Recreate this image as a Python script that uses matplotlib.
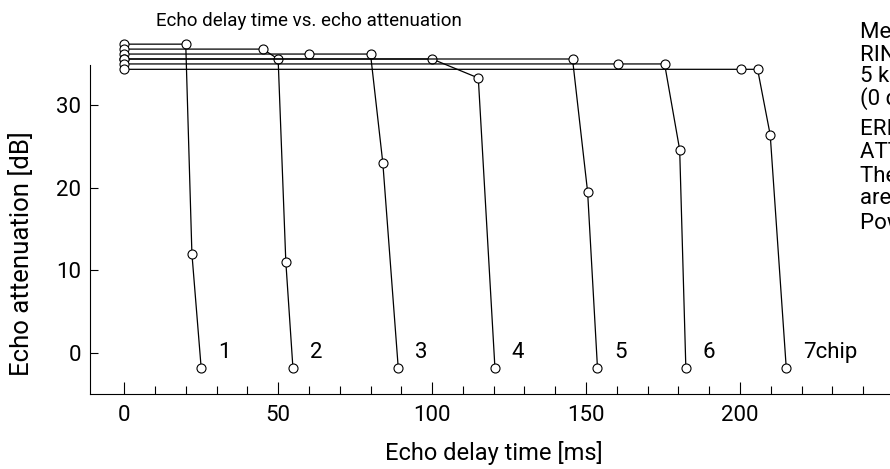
import matplotlib.pyplot as plt
from matplotlib.ticker import FixedLocator

plt.rcParams['font.family'] = ['Roboto', 'DejaVu Sans']

# delay / attenuation per chip count
chip_labels = ['1', '2', '3', '4', '5', '6', '7chip']
delay_ms = [
    [0, 20, 22, 25],
    [0, 45, 50, 52.5, 54.8],
    [0, 60, 80, 84, 89],
    [0, 100, 115, 120.4],
    [0, 145.6, 150.5, 153.7],
    [0, 160.4, 175.5, 180.4, 182.4],
    [0, 200.4, 205.7, 209.8, 215],
]
atten_db = [
    [37.4, 37.4, 12.0, -1.8],
    [36.8, 36.8, 35.6, 11.0, -1.8],
    [36.2, 36.2, 36.2, 23.0, -1.8],
    [35.6, 35.6, 33.3, -1.8],
    [35.6, 35.6, 19.5, -1.8],
    [35.0, 35.0, 35.0, 24.6, -1.8],
    [34.35, 34.35, 34.35, 26.4, -1.8],
]
notes = ['Measurement conditions:', 'RIN = -10 dBV,', '5 kHz sine wave', '(0 dB = RIN input level)',
         'ERI: Open', 'ATT: GND', 'The other terminals', 'are in standard state', 'Power supply: 5 V']
note_y = [32, 55, 76, 99, 129, 152, 176, 199, 223]

fig = plt.figure(figsize=(8.9, 4.69), dpi=100)
ax = fig.add_axes([0.1011, 0.1593, 0.938, 0.7923])

for xs, ys, lab in zip(delay_ms, atten_db, chip_labels):
    ax.plot(xs, ys, color='black', lw=0.9, marker='o', ms=6.5,
            mfc='white', mec='black', mew=0.8, clip_on=False)
    ax.annotate(lab, (xs[-1], ys[-1]), xytext=(12, 11), textcoords='offset points',
                fontsize=16, va='center', ha='left')

ax.set_xlim(-11.1, 260)
ax.set_ylim(-5.04, 40)
ax.spines['top'].set_visible(False)
ax.spines['right'].set_visible(False)
ax.spines['left'].set_bounds(-5.04, 34.9)
ax.xaxis.set_major_locator(FixedLocator([0, 50, 100, 150, 200]))
ax.xaxis.set_minor_locator(FixedLocator(list(range(0, 251, 10))))
ax.yaxis.set_major_locator(FixedLocator([0, 10, 20, 30]))
ax.tick_params(axis='x', which='major', direction='in', length=9, width=0.8, labelsize=16, pad=8)
ax.tick_params(axis='x', which='minor', direction='in', length=6, width=0.8)
ax.tick_params(axis='y', direction='in', length=6, width=0.8, labelsize=16, pad=6.5)

fig.text(494 / 890, 1 - 453 / 469, 'Echo delay time [ms]', fontsize=17, ha='center', va='center')
fig.text(22 / 890, 1 - 254 / 469, 'Echo attenuation [dB]', fontsize=18.5, ha='center', va='center',
         rotation=90)
fig.text(309 / 890, 1 - 21 / 469, 'Echo delay time vs. echo attenuation', fontsize=13.5,
         ha='center', va='center')
for t, yy in zip(notes, note_y):
    fig.text(860 / 890, 1 - yy / 469, t, fontsize=16, ha='left', va='center')

fig.savefig('out.png', dpi=100)
